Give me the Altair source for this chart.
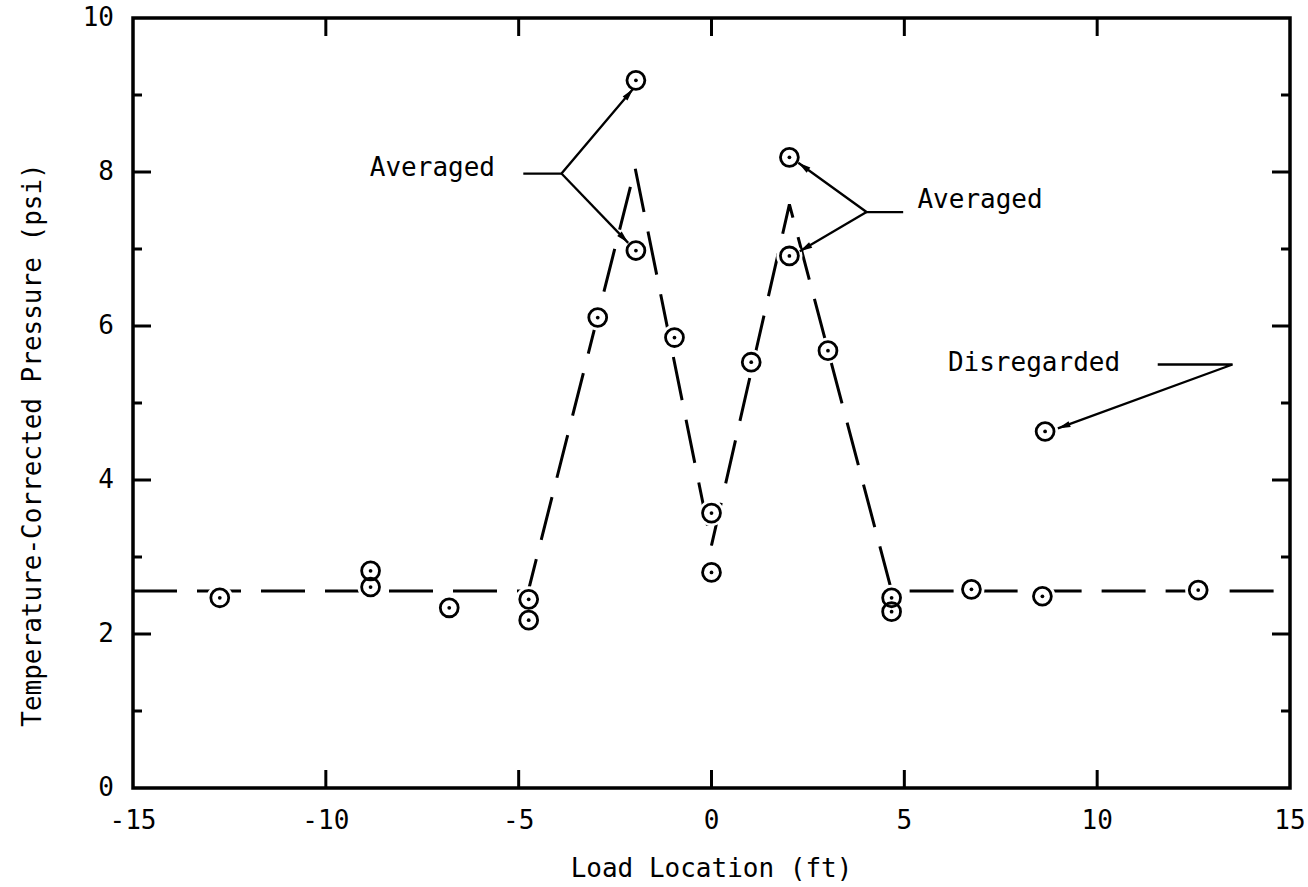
import math
import altair as alt
import pandas as pd

# ---------------- data ----------------
load_x = [-12.75, -8.84, -8.84, -6.80, -4.74, -4.74, -2.95, -1.96, -1.96, -0.96,
          0.0, 0.0, 1.03, 2.02, 2.02, 3.02, 4.67, 4.67, 6.74, 8.58, 8.65, 12.62]
pressure = [2.47, 2.82, 2.61, 2.34, 2.45, 2.18, 6.11, 9.19, 6.98, 5.85,
            3.57, 2.80, 5.53, 8.19, 6.91, 5.68, 2.47, 2.29, 2.58, 2.49, 4.63, 2.57]

fit_x = [-15, -4.75, -1.98, 0.0, 2.02, 4.67, 15]
fit_y = [2.56, 2.56, 8.05, 3.15, 7.58, 2.56, 2.56]

x_labels = [-15, -10, -5, 0, 5, 10, 15]
x_inner_ticks = [-10, -5, 0, 5, 10]
y_labels = [0, 2, 4, 6, 8, 10]
y_major_ticks = [2, 4, 6, 8]
y_minor_ticks = [1, 3, 5, 7, 9]

x_title = "Load Location (ft)"
y_title = "Temperature-Corrected Pressure (psi)"

note_text = ["Averaged", "Averaged", "Disregarded"]
note_x = [-8.86, 5.34, 6.13]
note_y = [8.05, 7.64, 5.52]

# leader paths (data units): each is a polyline, the last point is an arrow tip
leader_paths = [
    [(-4.88, 7.98), (-3.89, 7.98), (-2.03, 9.08)],
    [(-3.89, 7.98), (-2.16, 7.08)],
    [(4.97, 7.48), (4.02, 7.48), (2.25, 8.12)],
    [(4.02, 7.48), (2.29, 6.97)],
    [(11.57, 5.50), (13.51, 5.50), (8.98, 4.67)],
]

# ---------------- layout ----------------
TOP = 18
W, H = 1157, 770
PX_X = W / 30.0
PX_Y = H / 10.0
FONT = "DejaVu Sans Mono"
FS = 26

xs = alt.Scale(domain=[-15, 15], nice=False, zero=False)
ys = alt.Scale(domain=[0, 10], nice=False, zero=False)

fit_df = pd.DataFrame({"x": fit_x, "y": fit_y})
pts_df = pd.DataFrame({"x": load_x, "y": pressure})

seg_rows, head_rows = [], []
for i, path in enumerate(leader_paths):
    for j, (px, py) in enumerate(path):
        seg_rows.append({"id": i, "o": j, "x": px, "y": py})
    (x0, y0), (x1, y1) = path[-2], path[-1]
    ang = math.degrees(math.atan2((x1 - x0) * PX_X, (y1 - y0) * PX_Y)) % 360
    head_rows.append({"x": x1, "y": y1, "a": ang})
seg_df = pd.DataFrame(seg_rows)
head_df = pd.DataFrame(head_rows)
note_df = pd.DataFrame({"t": note_text, "x": note_x, "y": note_y})


def X(field):
    return alt.X(field, scale=xs, axis=None)


def Y(field):
    return alt.Y(field, scale=ys, axis=None)


fit = alt.Chart(fit_df).mark_line(color="black", strokeWidth=3, strokeDash=[44, 20]).encode(
    x=X("x:Q"), y=Y("y:Q"))

mask = alt.Chart(pts_df).mark_point(shape="circle", filled=True, color="white",
                                    opacity=1, size=680).encode(x=X("x:Q"), y=Y("y:Q"))

rings = alt.Chart(pts_df).mark_point(shape="circle", filled=False, color="black",
                                     strokeWidth=2.8, opacity=1, size=320).encode(
    x=X("x:Q"), y=Y("y:Q"))

dots = alt.Chart(pts_df).mark_point(shape="circle", filled=True, color="black",
                                    opacity=1, size=14).encode(x=X("x:Q"), y=Y("y:Q"))

leaders = alt.Chart(seg_df).mark_line(color="black", strokeWidth=2.3).encode(
    x=X("x:Q"), y=Y("y:Q"), detail="id:N", order="o:Q")

heads = alt.Chart(head_df).mark_point(shape="M0,0L0.6,2.4L-0.6,2.4Z", filled=True,
                                      color="black", opacity=1, size=110).encode(
    x=X("x:Q"), y=Y("y:Q"), angle=alt.Angle("a:Q", scale=None))

notes = alt.Chart(note_df).mark_text(align="left", baseline="middle", font=FONT,
                                     fontSize=FS, color="black").encode(
    x=X("x:Q"), y=Y("y:Q"), text="t:N")


def xtick(vals, a, b):
    return alt.Chart(pd.DataFrame({"v": vals})).mark_rule(color="black", strokeWidth=3).encode(
        x=X("v:Q"), y=alt.value(a), y2=alt.value(b))


def ytick(vals, a, b):
    return alt.Chart(pd.DataFrame({"v": vals})).mark_rule(color="black", strokeWidth=3).encode(
        y=Y("v:Q"), x=alt.value(a), x2=alt.value(b))


ticks = [
    xtick(x_inner_ticks, H, H - 18), xtick(x_inner_ticks, 0, 18),
    ytick(y_major_ticks, 0, 18), ytick(y_minor_ticks, 0, 9),
    ytick(y_major_ticks, W - 18, W), ytick(y_minor_ticks, W - 9, W),
]

# axis labels and titles as text
xlab_df = pd.DataFrame({"v": x_labels, "t": [str(v) for v in x_labels]})
ylab_df = pd.DataFrame({"v": y_labels, "t": [str(v) for v in y_labels]})

xlab = alt.Chart(xlab_df).mark_text(align="center", baseline="middle", font=FONT,
                                    fontSize=FS, color="black").encode(
    x=X("v:Q"), y=alt.value(H + 33), text="t:N")
ylab = alt.Chart(ylab_df).mark_text(align="right", baseline="middle", font=FONT,
                                    fontSize=FS, color="black").encode(
    y=Y("v:Q"), x=alt.value(-19), text="t:N")
xtitle = alt.Chart(pd.DataFrame({"t": [x_title]})).mark_text(
    align="center", baseline="middle", font=FONT, fontSize=FS, color="black").encode(
    x=alt.value(W / 2), y=alt.value(H + 81), text="t:N")
ytitle = alt.Chart(pd.DataFrame({"t": [y_title]})).mark_text(
    align="center", baseline="middle", font=FONT, fontSize=FS, color="black",
    angle=270).encode(
    x=alt.value(-100), y=alt.value(445 - TOP), text="t:N")

chart = alt.layer(fit, mask, rings, dots, leaders, heads, notes, *ticks,
                  xlab, ylab, xtitle, ytitle).properties(
    width=W, height=H,
    padding={"left": 133, "top": TOP, "right": 18, "bottom": 887 - TOP - H},
    autosize=alt.AutoSizeParams(type="none"),
    background="white",
).configure_view(stroke="black", strokeWidth=3.5)

chart.save("out.html", embed_options={"renderer": "svg", "actions": False})
